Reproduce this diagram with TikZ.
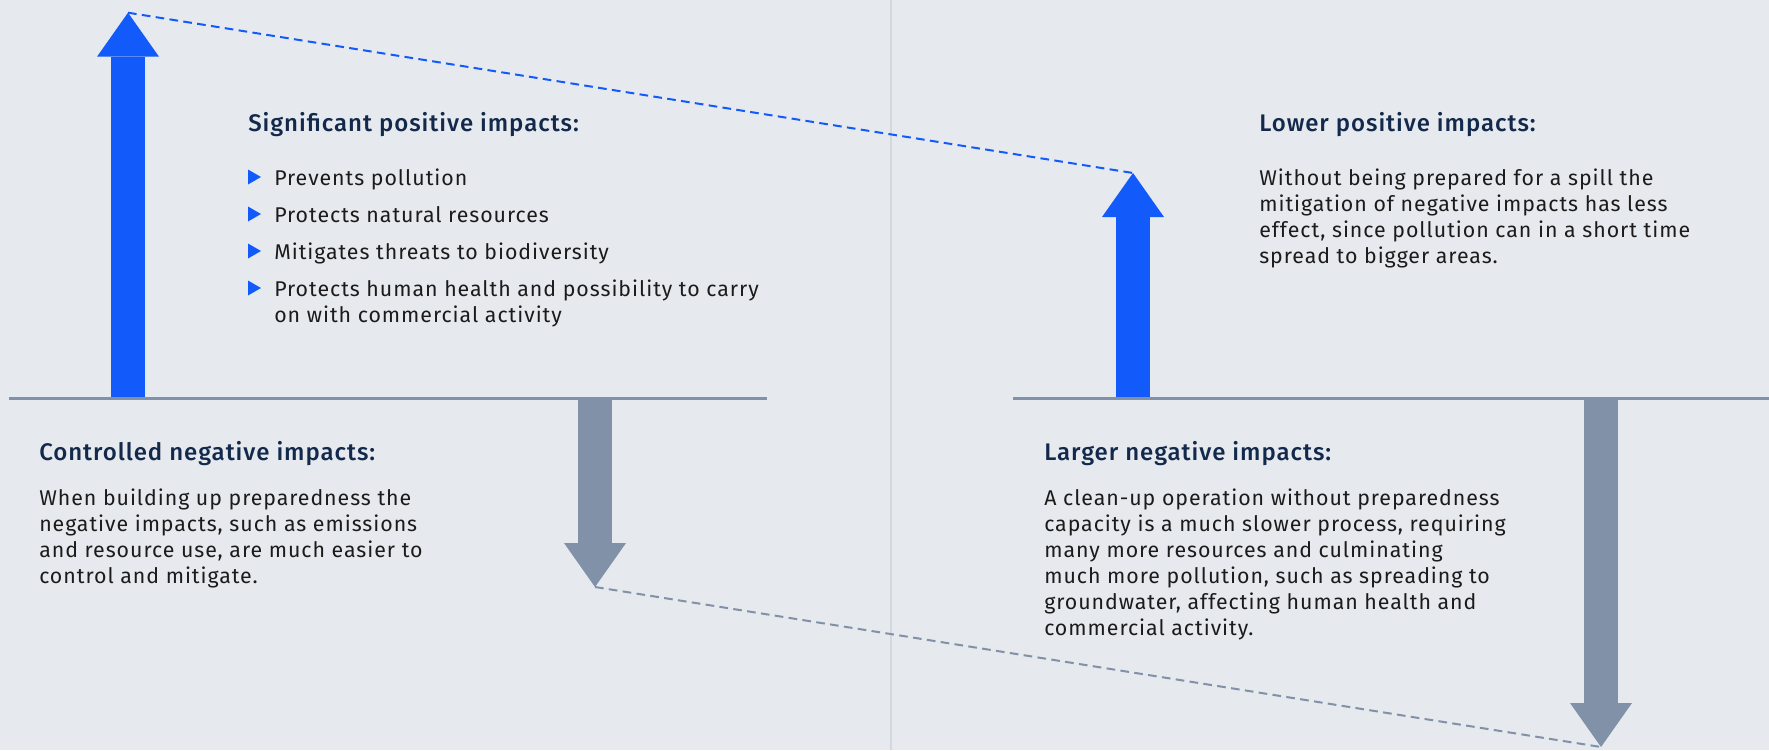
\documentclass[tikz,border=0pt]{standalone}
\usepackage{fontspec}
\setmainfont{Fira Sans}[LetterSpace=4.5]
\newfontfamily\headfont{Fira Sans Medium}[LetterSpace=4]
\usetikzlibrary{arrows.meta}

\definecolor{bgcol}{HTML}{E6E9EE}
\definecolor{impactblue}{HTML}{125BFA}
\definecolor{impactgray}{HTML}{8191A8}
\definecolor{headnavy}{HTML}{13294B}
\definecolor{divcol}{HTML}{D3D8DF}
\definecolor{bodycol}{HTML}{1B1B1B}

\tikzset{
  heading/.style = {anchor=base west, inner sep=0pt, text=headnavy,
    font=\headfont\fontsize{18}{22}\selectfont},
  bodytext/.style = {anchor=north west, inner sep=0pt, align=left, text=bodycol,
    font=\fontsize{16}{19.5}\selectfont},
  impact/.style = {line width=25.5pt,
    -{Triangle[length=33pt, width=46.5pt, line width=0pt]}},
  axis/.style = {impactgray, line width=2.25pt},
  link/.style = {line width=1.5pt, dash pattern=on 6.5pt off 4pt}
}

\begin{document}
\begin{tikzpicture}[x=0.75pt, y=-0.75pt]
  \useasboundingbox (0,0) rectangle (1769,750);
  \fill[bgcol] (0,0) rectangle (1769,750);

  \coordinate (div top) at (891,0);
  \coordinate (div bottom) at (891,750);
  \draw[divcol, line width=1.2pt] (div top) -- (div bottom);

  % baselines
  \coordinate (left start) at (9,398);
  \coordinate (left end) at (767,398);
  \coordinate (right start) at (1013,398);
  \coordinate (right end) at (1769,398);

  % arrow ends
  \coordinate (sig base) at (128,398);
  \coordinate (sig tip) at (128,12.7);
  \coordinate (low base) at (1133,398);
  \coordinate (low tip) at (1133,173);
  \coordinate (ctrl base) at (595,398);
  \coordinate (ctrl tip) at (595,587);
  \coordinate (large base) at (1601,398);
  \coordinate (large tip) at (1601,747);

  \draw[impact, impactblue] (sig base) -- (sig tip);
  \draw[impact, impactblue] (low base) -- (low tip);
  \draw[impact, impactgray] (ctrl base) -- (ctrl tip);
  \draw[impact, impactgray] (large base) -- (large tip);

  \draw[axis] (left start) -- (left end);
  \draw[axis] (right start) -- (right end);

  \draw[link, impactblue] (sig tip) -- (low tip);
  \draw[link, impactgray] (ctrl tip) -- (large tip);

  % texts
  \node[heading] (sig head) at (248,131) {Significant positive impacts:};
  \foreach \y in {184,221,258,295}
    \fill[impactblue] (248,\y-14.5) -- (261,\y-7) -- (248,\y+0.5) -- cycle;
  \node[bodytext] (sig1) at (274,169) {Prevents pollution};
  \node[bodytext] (sig2) at (274,206) {Protects natural resources};
  \node[bodytext] (sig3) at (274,243) {Mitigates threats to biodiversity};
  \node[bodytext] (sig4) at (274,280) {Protects human health and possibility to carry\\on with commercial activity};

  \node[heading] (low head) at (1259,131) {Lower positive impacts:};
  \node[bodytext] (low text) at (1259,169) {Without being prepared for a spill the\\mitigation of negative impacts has less\\effect, since pollution can in a short time\\spread to bigger areas.};

  \node[heading] (ctrl head) at (39,460) {Controlled negative impacts:};
  \node[bodytext] (ctrl text) at (39,489) {When building up preparedness the\\negative impacts, such as emissions\\and resource use, are much easier to\\control and mitigate.};

  \node[heading] (large head) at (1044,460) {Larger negative impacts:};
  \node[bodytext] (large text) at (1044,489) {A clean-up operation without preparedness\\capacity is a much slower process, requiring\\many more resources and culminating\\much more pollution, such as spreading to\\groundwater, affecting human health and\\commercial activity.};
\end{tikzpicture}
\end{document}
